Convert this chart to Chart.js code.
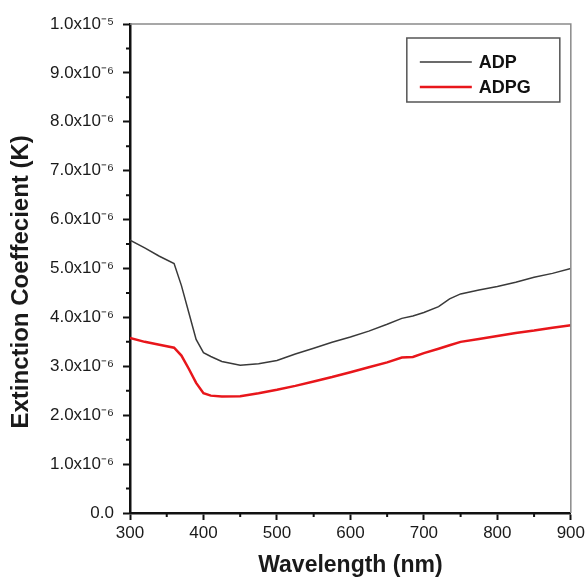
<!DOCTYPE html>
<html>
<head>
<meta charset="utf-8">
<script src="https://cdn.jsdelivr.net/npm/chart.js@4/dist/chart.umd.min.js"></script>
<style>
  html, body { margin: 0; padding: 0; background: #fff; }
  #wrap { width: 588px; height: 586px; }
</style>
</head>
<body>
<div id="wrap"><canvas id="c" width="588" height="586"></canvas></div>
<script>
// wavelengths (nm)
const wavelengths = [300, 320, 340, 360, 370, 380, 390, 400, 410, 425, 450, 475, 500, 525, 550, 575, 600, 625, 650, 670, 685, 700, 720, 735, 750, 775, 800, 825, 850, 875, 900];
// ADP extinction coefficient
const adp = [5.58e-6, 5.42e-6, 5.25e-6, 5.10e-6, 4.65e-6, 4.10e-6, 3.55e-6, 3.28e-6, 3.20e-6, 3.10e-6, 3.02e-6, 3.05e-6, 3.12e-6, 3.25e-6, 3.37e-6, 3.49e-6, 3.60e-6, 3.72e-6, 3.86e-6, 3.98e-6, 4.03e-6, 4.10e-6, 4.22e-6, 4.38e-6, 4.48e-6, 4.56e-6, 4.63e-6, 4.72e-6, 4.82e-6, 4.90e-6, 5.00e-6];
// ADPG extinction coefficient
const adpg = [3.58e-6, 3.50e-6, 3.44e-6, 3.38e-6, 3.22e-6, 2.95e-6, 2.66e-6, 2.45e-6, 2.40e-6, 2.38e-6, 2.39e-6, 2.45e-6, 2.52e-6, 2.60e-6, 2.69e-6, 2.78e-6, 2.88e-6, 2.98e-6, 3.08e-6, 3.18e-6, 3.19e-6, 3.27e-6, 3.36e-6, 3.43e-6, 3.50e-6, 3.56e-6, 3.62e-6, 3.68e-6, 3.73e-6, 3.79e-6, 3.84e-6];
// y tick labels
const yTickLabels = ['0.0', '1.0x10\u207B\u2076', '2.0x10\u207B\u2076', '3.0x10\u207B\u2076', '4.0x10\u207B\u2076', '5.0x10\u207B\u2076', '6.0x10\u207B\u2076', '7.0x10\u207B\u2076', '8.0x10\u207B\u2076', '9.0x10\u207B\u2076', '1.0x10\u207B\u2075'];
const seriesNames = ['ADP', 'ADPG'];
const seriesColors = ['#3a3a3a', '#e8161b'];

const FONT = "'Liberation Sans', Arial, sans-serif";

const framePlugin = {
  id: 'frame',
  afterDraw(chart) {
    const ctx = chart.ctx;
    const a = chart.chartArea;
    const xs = chart.scales.x, ys = chart.scales.y;
    ctx.save();
    // top and right frame
    ctx.strokeStyle = '#8a8a8a';
    ctx.lineWidth = 1.5;
    ctx.beginPath();
    ctx.moveTo(a.left, a.top);
    ctx.lineTo(a.right, a.top);
    ctx.lineTo(a.right, a.bottom);
    ctx.stroke();
    // minor ticks
    ctx.strokeStyle = '#111';
    ctx.lineWidth = 2;
    ctx.beginPath();
    for (let v = 350; v < 900; v += 100) {
      const px = xs.getPixelForValue(v);
      ctx.moveTo(px, a.bottom);
      ctx.lineTo(px, a.bottom + 4);
    }
    for (let k = 0; k < 10; k++) {
      const py = ys.getPixelForValue((k + 0.5) * 1e-6);
      ctx.moveTo(a.left, py);
      ctx.lineTo(a.left - 4, py);
    }
    ctx.stroke();
    // legend box
    const bx = a.right - 164, by = a.top + 14, bw = 153, bh = 64;
    ctx.strokeStyle = '#555';
    ctx.lineWidth = 1.5;
    ctx.strokeRect(bx, by, bw, bh);
    const rows = [by + 24, by + 49];
    ctx.font = 'bold 18px ' + FONT;
    ctx.textBaseline = 'middle';
    ctx.textAlign = 'left';
    for (let i = 0; i < 2; i++) {
      ctx.strokeStyle = seriesColors[i];
      ctx.lineWidth = i === 0 ? 1.5 : 2.5;
      ctx.beginPath();
      ctx.moveTo(bx + 13, rows[i]);
      ctx.lineTo(bx + 65, rows[i]);
      ctx.stroke();
      ctx.fillStyle = '#111';
      ctx.fillText(seriesNames[i], bx + 72, rows[i] + 1);
    }
    ctx.restore();
  }
};

new Chart(document.getElementById('c'), {
  type: 'line',
  data: {
    labels: wavelengths,
    datasets: [
      {
        label: seriesNames[0],
        data: wavelengths.map((w, i) => ({ x: w, y: adp[i] })),
        borderColor: seriesColors[0],
        borderWidth: 1.5,
        pointRadius: 0,
        tension: 0,
        fill: false
      },
      {
        label: seriesNames[1],
        data: wavelengths.map((w, i) => ({ x: w, y: adpg[i] })),
        borderColor: seriesColors[1],
        borderWidth: 2.5,
        pointRadius: 0,
        tension: 0,
        fill: false
      }
    ]
  },
  options: {
    responsive: false,
    animation: false,
    layout: { padding: { top: 24, right: 14, left: 0, bottom: 0 } },
    plugins: {
      legend: { display: false },
      tooltip: { enabled: false }
    },
    scales: {
      x: {
        type: 'linear',
        min: 300,
        max: 900,
        afterFit(scale) { scale.height = 73; },
        ticks: {
          stepSize: 100,
          color: '#1a1a1a',
          font: { family: FONT, size: 17 },
          padding: 3,
          maxRotation: 0
        },
        grid: {
          drawOnChartArea: false,
          tickLength: 7,
          tickColor: '#111',
          tickWidth: 2
        },
        border: { color: '#111', width: 2.5 },
        title: {
          display: true,
          text: 'Wavelength (nm)',
          color: '#1a1a1a',
          font: { family: FONT, size: 23, weight: 'bold' },
          padding: { top: 4, bottom: 7 }
        }
      },
      y: {
        type: 'linear',
        min: 0,
        max: 1e-5,
        afterFit(scale) { scale.width = 130; },
        ticks: {
          stepSize: 1e-6,
          color: '#1a1a1a',
          font: { family: FONT, size: 17 },
          padding: 9,
          callback: (v) => yTickLabels[Math.round(v / 1e-6)]
        },
        grid: {
          drawOnChartArea: false,
          tickLength: 7,
          tickColor: '#111',
          tickWidth: 2
        },
        border: { color: '#111', width: 2.5 },
        title: {
          display: true,
          text: 'Extinction Coeffecient (K)    ',
          color: '#1a1a1a',
          font: { family: FONT, size: 24, weight: 'bold' },
          padding: { top: 7, bottom: 4 }
        }
      }
    }
  },
  plugins: [framePlugin]
});
</script>
</body>
</html>
